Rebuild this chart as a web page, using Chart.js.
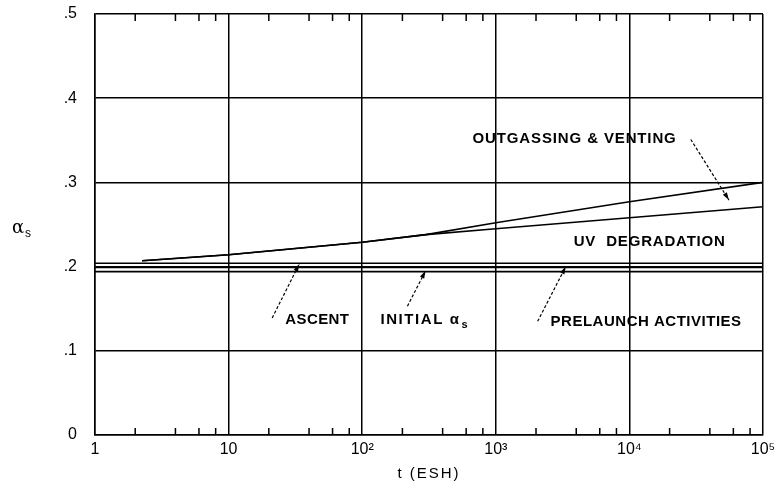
<!DOCTYPE html>
<html>
<head>
<meta charset="utf-8">
<script src="https://cdn.jsdelivr.net/npm/chart.js@4.4.0/dist/chart.umd.min.js"></script>
<style>
  html, body { margin: 0; padding: 0; background: #fff; }
  #wrap { width: 779px; height: 486px; }
</style>
</head>
<body>
<div id="wrap"><canvas id="chart"></canvas></div>
<script>
// t in equivalent sun hours, alpha_s
const tPoints = [2.25, 10, 100, 300, 1000, 10000, 100000];
const uvDegradation = [0.207, 0.214, 0.229, 0.238, 0.245, 0.258, 0.271];
const outgassingVenting = [0.207, 0.214, 0.229, 0.238, 0.252, 0.277, 0.300];

// the three flat lines run over the whole range
const tRange = [1, 100000];
const ascent = [0.204, 0.204];
const prelaunch = [0.199, 0.199];
const initialAlpha = [0.194, 0.194];

const xTickValues = [1, 10, 100, 1000, 10000, 100000];
const xTickLabels = ['1', '10', '10²', '10³', '10⁴', '10⁵'];
const yTickLabels = ['0', '.1', '.2', '.3', '.4', '.5'];
const minorTicks = [2, 4, 6, 8];

// labels and leader arrows, placed in data space (t, alpha)
const notes = [
  { text: 'OUTGASSING & VENTING', t: 670, a: 0.352, w: 204 },
  { text: 'UV  DEGRADATION', t: 3830, a: 0.229, w: 152 },
  { text: 'ASCENT', t: 26.6, a: 0.137, w: 64 },
  { text: 'INITIAL α', sub: 's', t: 137, a: 0.137, w: 80 },
  { text: 'PRELAUNCH ACTIVITIES', t: 2570, a: 0.134, w: 191 },
];
const leaders = [
  { from: [28800, 0.351], to: [55600, 0.279] },
  { from: [21.2, 0.139], to: [33.8, 0.203] },
  { from: [218, 0.153], to: [298, 0.195] },
  { from: [2057, 0.135], to: [3340, 0.2] },
];

function pts(xs, ys) {
  return xs.map((x, i) => ({ x: x, y: ys[i] }));
}

function lineSet(data) {
  return {
    data: data,
    borderColor: '#000',
    borderWidth: 1.6,
    pointRadius: 0,
    fill: false,
    tension: 0,
  };
}

function fitText(ctx, text, w) {
  ctx.letterSpacing = '0px';
  const m = ctx.measureText(text).width;
  const sp = (w - m) / text.length;
  ctx.letterSpacing = sp.toFixed(2) + 'px';
}

const extras = {
  id: 'extras',
  afterDraw(chart) {
    const ctx = chart.ctx;
    const xs = chart.scales.x;
    const ys = chart.scales.y;
    const area = chart.chartArea;
    ctx.save();

    // minor ticks, top and bottom edges
    ctx.strokeStyle = '#000';
    ctx.lineWidth = 1.5;
    for (let d = 0; d < 5; d++) {
      minorTicks.forEach((m) => {
        const px = xs.getPixelForValue(m * Math.pow(10, d));
        ctx.beginPath();
        ctx.moveTo(px, area.bottom);
        ctx.lineTo(px, area.bottom - 7);
        ctx.moveTo(px, area.top);
        ctx.lineTo(px, area.top + 7);
        ctx.stroke();
      });
    }

    // leader arrows
    leaders.forEach((l) => {
      const x1 = xs.getPixelForValue(l.from[0]);
      const y1 = ys.getPixelForValue(l.from[1]);
      const x2 = xs.getPixelForValue(l.to[0]);
      const y2 = ys.getPixelForValue(l.to[1]);
      ctx.setLineDash([3, 2]);
      ctx.lineWidth = 1.2;
      ctx.beginPath();
      ctx.moveTo(x1, y1);
      ctx.lineTo(x2, y2);
      ctx.stroke();
      ctx.setLineDash([]);
      const ang = Math.atan2(y2 - y1, x2 - x1);
      ctx.beginPath();
      ctx.moveTo(x2, y2);
      ctx.lineTo(x2 - 8 * Math.cos(ang - 0.3), y2 - 8 * Math.sin(ang - 0.3));
      ctx.lineTo(x2 - 8 * Math.cos(ang + 0.3), y2 - 8 * Math.sin(ang + 0.3));
      ctx.closePath();
      ctx.fillStyle = '#000';
      ctx.fill();
    });

    // text labels
    ctx.fillStyle = '#000';
    ctx.textBaseline = 'middle';
    ctx.textAlign = 'left';
    notes.forEach((n) => {
      const px = xs.getPixelForValue(n.t);
      const py = ys.getPixelForValue(n.a);
      ctx.font = '600 15px "Liberation Sans"';
      fitText(ctx, n.text, n.w);
      ctx.fillText(n.text, px, py);
      if (n.sub) {
        const tw = ctx.measureText(n.text).width;
        ctx.letterSpacing = '0px';
        ctx.font = '600 11px "Liberation Sans"';
        ctx.fillText(n.sub, px + tw + 1, py + 5);
      }
    });

    // axis titles
    ctx.letterSpacing = '0px';
    ctx.font = '18px "DejaVu Serif"';
    ctx.fillText('α', 12, 228);
    ctx.font = '12px "Liberation Sans"';
    ctx.fillText('s', 25, 234);

    ctx.textAlign = 'center';
    ctx.font = '15px "Liberation Sans"';
    ctx.letterSpacing = '2px';
    ctx.fillText('t (ESH)', (area.left + area.right) / 2, 474);
    ctx.restore();
  }
};

new Chart(document.getElementById('chart'), {
  type: 'line',
  data: {
    datasets: [
      lineSet(pts(tPoints, outgassingVenting)),
      lineSet(pts(tPoints, uvDegradation)),
      lineSet(pts(tRange, ascent)),
      lineSet(pts(tRange, prelaunch)),
      lineSet(pts(tRange, initialAlpha)),
    ],
  },
  options: {
    responsive: true,
    maintainAspectRatio: false,
    animation: false,
    layout: { padding: { top: 14, right: 16, left: 0, bottom: 0 } },
    plugins: {
      legend: { display: false },
      tooltip: { enabled: false },
    },
    scales: {
      x: {
        type: 'logarithmic',
        min: 1,
        max: 100000,
        afterBuildTicks: (axis) => {
          axis.ticks = xTickValues.map((v) => ({ value: v }));
        },
        afterFit: (s) => {
          s.height = 51;
          s.paddingLeft = 0;
          s.paddingRight = 0;
        },
        ticks: {
          autoSkip: false,
          maxRotation: 0,
          padding: 5,
          color: '#000',
          font: { family: 'Liberation Sans', size: 16 },
          callback: (v, i) => xTickLabels[i],
        },
        grid: { color: '#000', lineWidth: 1.5, drawTicks: false },
        border: { display: true, color: '#000', width: 1.5 },
      },
      y: {
        min: 0,
        max: 0.5,
        afterFit: (s) => {
          s.width = 95;
          s.paddingTop = 0;
          s.paddingBottom = 0;
        },
        ticks: {
          stepSize: 0.1,
          padding: 18,
          color: '#000',
          font: { family: 'Liberation Sans', size: 16 },
          callback: (v, i) => yTickLabels[i],
        },
        grid: { color: '#000', lineWidth: 1.5, drawTicks: false },
        border: { display: true, color: '#000', width: 1.5 },
      },
    },
  },
  plugins: [extras],
});
</script>
</body>
</html>
